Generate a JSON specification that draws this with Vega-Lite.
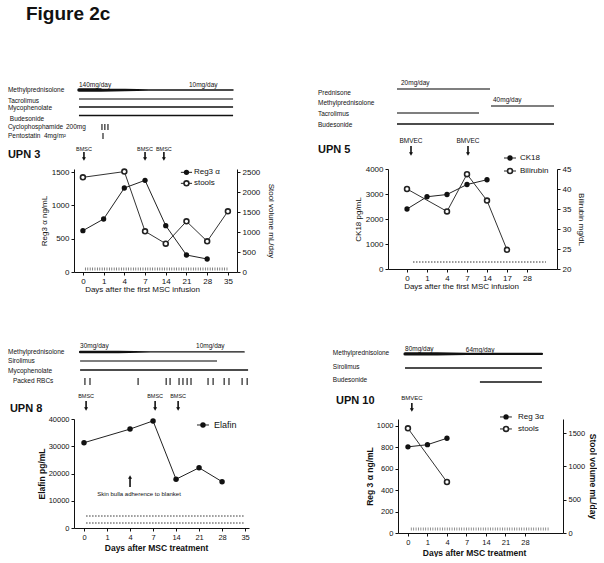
{
 "$schema": "https://vega.github.io/schema/vega-lite/v6.json",
 "background": "white",
 "padding": {"left": 7, "top": 4, "right": 0, "bottom": 0},
 "config": {
  "font": "Liberation Sans",
  "view": {"stroke": null},
  "axis": {"grid": false, "domainColor": "#111", "tickColor": "#111", "labelColor": "#111", "titleColor": "#111", "labelFontSize": 8, "titleFontSize": 8, "titleFontWeight": "normal", "tickSize": 3, "labelPadding": 2, "domainWidth": 1, "tickWidth": 1, "labelFlush": false, "labelOverlap": false},
  "text": {"color": "#111"}
 },
 "bounds": "full",
 "spacing": 49,
 "resolve": {"scale": {"size": "independent"}},
 "datasets": {
  "u3": [
   {"k":"reg","i":0,"v":620},{"k":"reg","i":1,"v":795},{"k":"reg","i":2,"v":1260},{"k":"reg","i":3,"v":1375},{"k":"reg","i":4,"v":695},{"k":"reg","i":5,"v":255},{"k":"reg","i":6,"v":195},
   {"k":"stool","i":0,"v":2367},{"k":"stool","i":2,"v":2510},{"k":"stool","i":3,"v":1017},{"k":"stool","i":4,"v":708},{"k":"stool","i":5,"v":1267},{"k":"stool","i":6,"v":767},{"k":"stool","i":7,"v":1517},
   {"k":"taper","i":-0.19,"v":2730,"dose":140},{"k":"taper","i":0.87,"v":2730,"dose":140},{"k":"taper","i":3.19,"v":2730,"dose":10},{"k":"taper","i":7.25,"v":2730,"dose":10},
   {"k":"drugg","t":"Tacrolimus","i":-0.19,"i2":7.25,"v":2595},
   {"k":"drug","t":"Mycophenolate","i":-0.19,"i2":7.25,"v":2475},
   {"k":"drug","t":"Budesonide","i":-0.19,"i2":7.25,"v":2348},
   {"k":"lab","t":"Methylprednisolone","i":-3.62,"v":2730},
   {"k":"lab","t":"Tacrolimus","i":-3.62,"v":2570},
   {"k":"lab","t":"Mycophenolate","i":-3.62,"v":2460},
   {"k":"lab","t":"Budesonide","i":-3.53,"v":2295},
   {"k":"lab","t":"Cyclophosphamide","i":-3.62,"v":2170},
   {"k":"lab","t":"200mg","i":-0.82,"v":2170},
   {"k":"lab","t":"Pentostatin","i":-3.62,"v":2045},
   {"k":"lab","t":"4mg/m²","i":-1.88,"v":2045},
   {"k":"lab","t":"140mg/day","i":-0.19,"v":2805},
   {"k":"lab","t":"10mg/day","i":5.12,"v":2805},
   {"k":"bar","i":0.92,"v":2220,"v2":2130},{"k":"bar","i":1.06,"v":2220,"v2":2130},{"k":"bar","i":1.21,"v":2220,"v2":2130},
   {"k":"bar","i":0.97,"v":2085,"v2":1995},
   {"k":"ann","t":"BMSC","i":0.05,"v":1838},{"k":"ann","t":"BMSC","i":3.0,"v":1838},{"k":"ann","t":"BMSC","i":3.91,"v":1838},
   {"k":"arr","i":0.05,"v":1800,"v2":1710},{"k":"arr","i":3.0,"v":1800,"v2":1710},{"k":"arr","i":3.91,"v":1800,"v2":1710},
   {"k":"head","i":0.05,"v":1695},{"k":"head","i":3.0,"v":1695},{"k":"head","i":3.91,"v":1695},
   {"k":"upn","t":"UPN 3","i":-3.62,"v":1755},
   {"k":"fig","t":"Figure 2c","i":-2.75,"v":3787},
   {"k":"dots","i":0.1,"i2":7.05,"v":45},
   {"k":"legl","i":4.73,"i2":5.27,"v":1495},{"k":"legf","i":5.0,"v":1495},{"k":"legt","t":"Reg3  α","i":5.36,"v":1495},
   {"k":"legl","i":4.73,"i2":5.27,"v":1330},{"k":"lego","i":5.0,"v":1330},{"k":"legt","t":"stools","i":5.36,"v":1330}
  ],
  "u5": [
   {"k":"reg","i":0,"v":2400},{"k":"reg","i":1,"v":2890},{"k":"reg","i":2,"v":2980},{"k":"reg","i":3,"v":3380},{"k":"reg","i":4,"v":3570},
   {"k":"stool","i":0,"v":40.0},{"k":"stool","i":2,"v":34.4},{"k":"stool","i":3,"v":43.7},{"k":"stool","i":4,"v":37.1},{"k":"stool","i":5,"v":24.8},
   {"k":"drugg","t":"Prednisone","i":-0.5,"i2":4.15,"v":7200},
   {"k":"drugg","t":"Methylprednisolone","i":4.2,"i2":7.35,"v":6520},
   {"k":"drugg","t":"Tacrolimus","i":-0.5,"i2":3.6,"v":6240},
   {"k":"drug","t":"Budesonide","i":-0.5,"i2":7.35,"v":5800},
   {"k":"lab","t":"Prednisone","i":-4.45,"v":7040},
   {"k":"lab","t":"Methylprednisolone","i":-4.45,"v":6640},
   {"k":"lab","t":"Tacrolimus","i":-4.45,"v":6200},
   {"k":"lab","t":"Budesonide","i":-4.45,"v":5760},
   {"k":"lab","t":"20mg/day","i":-0.3,"v":7440},
   {"k":"lab","t":"40mg/day","i":4.3,"v":6760},
   {"k":"upn","t":"UPN 5","i":-4.45,"v":4760},
   {"k":"ann","t":"BMVEC","i":0.2,"v":5120},{"k":"ann","t":"BMVEC","i":3.05,"v":5120},
   {"k":"arr","i":0.2,"v":4920,"v2":4640},{"k":"arr","i":3.05,"v":4920,"v2":4640},
   {"k":"head","i":0.2,"v":4600},{"k":"head","i":3.05,"v":4600},
   {"k":"dots","i":0.3,"i2":6.95,"v":280},
   {"k":"legl","i":4.85,"i2":5.45,"v":4440},{"k":"legf","i":5.15,"v":4440},{"k":"legt","t":"CK18","i":5.65,"v":4440},
   {"k":"legl","i":4.85,"i2":5.45,"v":3920},{"k":"lego","i":5.15,"v":3920},{"k":"legt","t":"Bilirubin","i":5.65,"v":3920}
  ],
  "u8": [
   {"k":"reg","i":0,"v":31300},{"k":"reg","i":2,"v":36300},{"k":"reg","i":3,"v":39300},{"k":"reg","i":4,"v":17900},{"k":"reg","i":5,"v":22100},{"k":"reg","i":6,"v":17000},
   {"k":"dots","i":0.09,"i2":6.96,"v":4400},{"k":"dots","i":0.09,"i2":6.96,"v":1830},
   {"k":"taper","i":-0.17,"v":64600,"dose":30},{"k":"taper","i":1.5,"v":64600,"dose":30},{"k":"taper","i":2.9,"v":64600,"dose":10},{"k":"taper","i":6.96,"v":64600,"dose":10},
   {"k":"drugg","t":"Sirolimus","i":-0.17,"i2":5.78,"v":61300},
   {"k":"drug","t":"Mycophenolate","i":-0.17,"i2":7.13,"v":58000},
   {"k":"lab","t":"Methylprednisolone","i":-3.3,"v":64600},
   {"k":"lab","t":"Sirolimus","i":-3.3,"v":61300},
   {"k":"lab","t":"Mycophenolate","i":-3.3,"v":57600},
   {"k":"lab","t":"Packed RBCs","i":-3.09,"v":53950},
   {"k":"lab","t":"30mg/day","i":-0.17,"v":66800},
   {"k":"lab","t":"10mg/day","i":4.87,"v":66800},
   {"k":"bar","i":0.04,"v":55050,"v2":52480},{"k":"bar","i":0.26,"v":55050,"v2":52480},{"k":"bar","i":2.35,"v":55050,"v2":52480},
   {"k":"bar","i":3.57,"v":55050,"v2":52480},{"k":"bar","i":3.74,"v":55050,"v2":52480},
   {"k":"bar","i":4.13,"v":55050,"v2":52480},{"k":"bar","i":4.3,"v":55050,"v2":52480},{"k":"bar","i":4.48,"v":55050,"v2":52480},{"k":"bar","i":4.65,"v":55050,"v2":52480},
   {"k":"bar","i":5.39,"v":55050,"v2":52480},{"k":"bar","i":5.61,"v":55050,"v2":52480},
   {"k":"bar","i":6.09,"v":55050,"v2":52480},{"k":"bar","i":6.3,"v":55050,"v2":52480},
   {"k":"bar","i":6.87,"v":55050,"v2":52480},{"k":"bar","i":7.09,"v":55050,"v2":52480},
   {"k":"ann","t":"BMSC","i":0.09,"v":48440},{"k":"ann","t":"BMSC","i":3.09,"v":48440},{"k":"ann","t":"BMSC","i":4.09,"v":48440},
   {"k":"arr","i":0.09,"v":46600,"v2":44040},{"k":"arr","i":3.09,"v":46600,"v2":44040},{"k":"arr","i":4.09,"v":46600,"v2":44040},
   {"k":"head","i":0.09,"v":43670},{"k":"head","i":3.09,"v":43670},{"k":"head","i":4.09,"v":43670},
   {"k":"upn","t":"UPN 8","i":-3.22,"v":43670},
   {"k":"arr","i":2.0,"v":15050,"v2":18350},
   {"k":"headu","i":2.0,"v":18720},
   {"k":"note","t":"Skin bulla adherence to blanket","i":2.39,"v":12480},
   {"k":"legl","i":4.91,"i2":5.43,"v":37800},{"k":"legf","i":5.17,"v":37800},{"k":"legt","t":"Elafin","i":5.65,"v":37800}
  ],
  "u10": [
   {"k":"reg","i":0,"v":805},{"k":"reg","i":1,"v":825},{"k":"reg","i":2,"v":885},
   {"k":"stool","i":0,"v":1570},{"k":"stool","i":2,"v":765},
   {"k":"dots","i":0.15,"i2":7.23,"v":37},
   {"k":"taper","i":-0.15,"v":1673,"dose":80},{"k":"taper","i":1.5,"v":1673,"dose":80},{"k":"taper","i":3.0,"v":1673,"dose":64},{"k":"taper","i":6.87,"v":1673,"dose":64},
   {"k":"drug","t":"Sirolimus","i":-0.15,"i2":6.87,"v":1542},
   {"k":"drug","t":"Budesonide","i":3.69,"i2":6.87,"v":1411},
   {"k":"lab","t":"Methylprednisolone","i":-3.85,"v":1682},
   {"k":"lab","t":"Sirolimus","i":-3.85,"v":1551},
   {"k":"lab","t":"Budesonide","i":-3.85,"v":1430},
   {"k":"lab","t":"80mg/day","i":-0.15,"v":1720},
   {"k":"lab","t":"64mg/day","i":2.97,"v":1710},
   {"k":"upn","t":"UPN 10","i":-3.69,"v":1234},
   {"k":"ann","t":"BMVEC","i":0.2,"v":1262},
   {"k":"arr","i":0.2,"v":1215,"v2":1159},
   {"k":"head","i":0.2,"v":1150},
   {"k":"legl","i":4.72,"i2":5.33,"v":1084},{"k":"legf","i":5.03,"v":1084},{"k":"legt","t":"Reg 3α","i":5.64,"v":1084},
   {"k":"legl","i":4.72,"i2":5.33,"v":972},{"k":"lego","i":5.03,"v":972},{"k":"legt","t":"stools","i":5.64,"v":972}
  ]
 },
 "vconcat": [
  {
   "hconcat": [
    {
     "width": 163, "height": 103,
     "data": {"name": "u3"},
     "layer": [
      {
       "encoding": {
        "x": {"field":"i","type":"quantitative","scale":{"domain":[-0.43,7.44],"nice":false,"zero":false},"axis":{"values":[0,1,2,3,4,5,6,7],"labelExpr":"['0','1','4','7','14','21','28','35'][datum.value]","title":"Days after the first MSC infusion","titleX":68,"titlePadding":0}},
        "y": {"field":"v","type":"quantitative","scale":{"domain":[0,1545],"nice":false,"zero":false},"axis":{"values":[0,500,1000,1500],"format":"d","title":"Reg3 α ng/mL","titlePadding":3}}
       },
       "layer": [
        {"transform":[{"filter":"datum.k=='taper'"}],"mark":{"type":"trail","color":"#111"},"encoding":{"size":{"field":"dose","type":"quantitative","scale":{"domain":[10,140],"range":[1.3,3.4]},"legend":null}}},
        {"transform":[{"filter":"datum.k=='drug'"}],"mark":{"type":"rule","color":"#111","strokeWidth":1.5},"encoding":{"x2":{"field":"i2"}}},
        {"transform":[{"filter":"datum.k=='drugg'"}],"mark":{"type":"rule","color":"#555","strokeWidth":1.5},"encoding":{"x2":{"field":"i2"}}},
        {"transform":[{"filter":"datum.k=='bar'"}],"mark":{"type":"rule","color":"#111","strokeWidth":1.1},"encoding":{"y2":{"field":"v2"}}},
        {"transform":[{"filter":"datum.k=='arr'"}],"mark":{"type":"rule","color":"#111","strokeWidth":1.6},"encoding":{"y2":{"field":"v2"}}},
        {"transform":[{"filter":"datum.k=='head'"}],"mark":{"type":"point","shape":"triangle-down","filled":true,"color":"#111","size":16,"opacity":1}},
        {"transform":[{"filter":"datum.k=='lab'"}],"mark":{"type":"text","align":"left","baseline":"middle","fontSize":6.5},"encoding":{"text":{"field":"t"}}},
        {"transform":[{"filter":"datum.k=='ann'"}],"mark":{"type":"text","align":"center","baseline":"middle","fontSize":5.5},"encoding":{"text":{"field":"t"}}},
        {"transform":[{"filter":"datum.k=='upn'"}],"mark":{"type":"text","align":"left","baseline":"middle","fontSize":11,"fontWeight":"bold"},"encoding":{"text":{"field":"t"}}},
        {"transform":[{"filter":"datum.k=='fig'"}],"mark":{"type":"text","align":"left","baseline":"alphabetic","fontSize":19,"fontWeight":"bold"},"encoding":{"text":{"field":"t"}}},
        {"transform":[{"filter":"datum.k=='dots'"}],"mark":{"type":"rule","color":"#666","strokeWidth":3,"strokeDash":[0.8,1.6]},"encoding":{"x2":{"field":"i2"}}},
        {"transform":[{"filter":"datum.k=='reg'"}],"mark":{"type":"line","color":"#222","strokeWidth":1}},
        {"transform":[{"filter":"datum.k=='reg'"}],"mark":{"type":"point","filled":true,"color":"#111","size":28,"opacity":1}},
        {"transform":[{"filter":"datum.k=='legl'"}],"mark":{"type":"rule","color":"#222","strokeWidth":1},"encoding":{"x2":{"field":"i2"}}},
        {"transform":[{"filter":"datum.k=='legf'"}],"mark":{"type":"point","filled":true,"color":"#111","size":28,"opacity":1}},
        {"transform":[{"filter":"datum.k=='lego'"}],"mark":{"type":"point","filled":true,"fill":"white","stroke":"#222","strokeWidth":1.6,"size":24,"opacity":1}},
        {"transform":[{"filter":"datum.k=='legt'"}],"mark":{"type":"text","align":"left","baseline":"middle","fontSize":8},"encoding":{"text":{"field":"t"}}}
       ]
      },
      {
       "transform":[{"filter":"datum.k=='stool'"}],
       "encoding": {
        "x": {"field":"i","type":"quantitative","scale":{"domain":[-0.43,7.44],"nice":false,"zero":false},"axis":{"values":[0,1,2,3,4,5,6,7],"labelExpr":"['0','1','4','7','14','21','28','35'][datum.value]","title":"Days after the first MSC infusion","titleX":68,"titlePadding":0}},
        "y": {"field":"v","type":"quantitative","scale":{"domain":[0,2575],"nice":false,"zero":false},"axis":{"orient":"right","values":[0,500,1000,1500,2000,2500],"format":"d","title":"Stool volume mL/day","titlePadding":7}}
       },
       "layer": [
        {"mark":{"type":"line","color":"#333","strokeWidth":1}},
        {"mark":{"type":"point","filled":true,"fill":"white","stroke":"#222","strokeWidth":1.6,"size":24,"opacity":1}}
       ]
      }
     ],
     "resolve": {"scale": {"y": "independent"}, "axis": {"y": "independent"}}
    },
    {
     "width": 169, "height": 100,
     "data": {"name": "u5"},
     "layer": [
      {
       "encoding": {
        "x": {"field":"i","type":"quantitative","scale":{"domain":[-0.95,7.5],"nice":false,"zero":false},"axis":{"values":[0,1,2,3,4,5,6],"labelExpr":"['0','1','4','7','14','17','28'][datum.value]","title":"Days after the first MSC infusion","titleX":73,"titlePadding":0}},
        "y": {"field":"v","type":"quantitative","scale":{"domain":[0,4000],"nice":false,"zero":false},"axis":{"values":[0,1000,2000,3000,4000],"format":"d","title":"CK18 pg/mL","titlePadding":3}}
       },
       "layer": [
        {"transform":[{"filter":"datum.k=='drug'"}],"mark":{"type":"rule","color":"#111","strokeWidth":1.5},"encoding":{"x2":{"field":"i2"}}},
        {"transform":[{"filter":"datum.k=='drugg'"}],"mark":{"type":"rule","color":"#555","strokeWidth":1.5},"encoding":{"x2":{"field":"i2"}}},
        {"transform":[{"filter":"datum.k=='arr'"}],"mark":{"type":"rule","color":"#111","strokeWidth":1.6},"encoding":{"y2":{"field":"v2"}}},
        {"transform":[{"filter":"datum.k=='head'"}],"mark":{"type":"point","shape":"triangle-down","filled":true,"color":"#111","size":16,"opacity":1}},
        {"transform":[{"filter":"datum.k=='lab'"}],"mark":{"type":"text","align":"left","baseline":"middle","fontSize":6.5},"encoding":{"text":{"field":"t"}}},
        {"transform":[{"filter":"datum.k=='ann'"}],"mark":{"type":"text","align":"center","baseline":"middle","fontSize":6.5},"encoding":{"text":{"field":"t"}}},
        {"transform":[{"filter":"datum.k=='upn'"}],"mark":{"type":"text","align":"left","baseline":"middle","fontSize":11,"fontWeight":"bold"},"encoding":{"text":{"field":"t"}}},
        {"transform":[{"filter":"datum.k=='dots'"}],"mark":{"type":"rule","color":"#333","strokeWidth":1,"strokeDash":[1.5,1.5]},"encoding":{"x2":{"field":"i2"}}},
        {"transform":[{"filter":"datum.k=='reg'"}],"mark":{"type":"line","color":"#222","strokeWidth":1}},
        {"transform":[{"filter":"datum.k=='reg'"}],"mark":{"type":"point","filled":true,"color":"#111","size":28,"opacity":1}},
        {"transform":[{"filter":"datum.k=='legl'"}],"mark":{"type":"rule","color":"#222","strokeWidth":1},"encoding":{"x2":{"field":"i2"}}},
        {"transform":[{"filter":"datum.k=='legf'"}],"mark":{"type":"point","filled":true,"color":"#111","size":28,"opacity":1}},
        {"transform":[{"filter":"datum.k=='lego'"}],"mark":{"type":"point","filled":true,"fill":"white","stroke":"#222","strokeWidth":1.6,"size":24,"opacity":1}},
        {"transform":[{"filter":"datum.k=='legt'"}],"mark":{"type":"text","align":"left","baseline":"middle","fontSize":8},"encoding":{"text":{"field":"t"}}}
       ]
      },
      {
       "transform":[{"filter":"datum.k=='stool'"}],
       "encoding": {
        "x": {"field":"i","type":"quantitative","scale":{"domain":[-0.95,7.5],"nice":false,"zero":false},"axis":{"values":[0,1,2,3,4,5,6],"labelExpr":"['0','1','4','7','14','17','28'][datum.value]","title":"Days after the first MSC infusion","titleX":73,"titlePadding":0}},
        "y": {"field":"v","type":"quantitative","scale":{"domain":[20,45],"nice":false,"zero":false},"axis":{"orient":"right","values":[20,25,30,35,40,45],"format":"d","title":"Bilirubin mg/dL","titlePadding":6}}
       },
       "layer": [
        {"mark":{"type":"line","color":"#333","strokeWidth":1}},
        {"mark":{"type":"point","filled":true,"fill":"white","stroke":"#222","strokeWidth":1.6,"size":24,"opacity":1}}
       ]
      }
     ],
     "resolve": {"scale": {"y": "independent"}, "axis": {"y": "independent"}}
    }
   ],
   "spacing": 151,
   "bounds": "flush",
   "resolve": {"scale": {"size": "independent"}}
  },
  {
   "hconcat": [
    {
     "width": 175, "height": 109,
     "data": {"name": "u8"},
     "encoding": {
      "x": {"field":"i","type":"quantitative","scale":{"domain":[-0.435,7.17],"nice":false,"zero":false},"axis":{"values":[0,1,2,3,4,5,6,7],"labelExpr":"['0','1','4','7','14','21','28','35'][datum.value]","title":"Days after MSC treatment","titleFontWeight":"bold","titleFontSize":8.5,"titleX":82,"titlePadding":3,"labelFontSize":7.5}},
      "y": {"field":"v","type":"quantitative","scale":{"domain":[0,40000],"nice":false,"zero":false},"axis":{"values":[0,10000,20000,30000,40000],"format":"d","title":"Elafin pg/mL","titleFontWeight":"bold","titleFontSize":8.5,"titlePadding":2,"labelFontSize":7.5}}
     },
     "layer": [
      {"transform":[{"filter":"datum.k=='taper'"}],"mark":{"type":"trail","color":"#111"},"encoding":{"size":{"field":"dose","type":"quantitative","scale":{"domain":[10,30],"range":[1.3,2.4]},"legend":null}}},
      {"transform":[{"filter":"datum.k=='drug'"}],"mark":{"type":"rule","color":"#111","strokeWidth":1.5},"encoding":{"x2":{"field":"i2"}}},
      {"transform":[{"filter":"datum.k=='drugg'"}],"mark":{"type":"rule","color":"#555","strokeWidth":1.5},"encoding":{"x2":{"field":"i2"}}},
      {"transform":[{"filter":"datum.k=='bar'"}],"mark":{"type":"rule","color":"#111","strokeWidth":1.1},"encoding":{"y2":{"field":"v2"}}},
      {"transform":[{"filter":"datum.k=='arr'"}],"mark":{"type":"rule","color":"#111","strokeWidth":1.6},"encoding":{"y2":{"field":"v2"}}},
      {"transform":[{"filter":"datum.k=='head'"}],"mark":{"type":"point","shape":"triangle-down","filled":true,"color":"#111","size":16,"opacity":1}},
      {"transform":[{"filter":"datum.k=='headu'"}],"mark":{"type":"point","shape":"triangle-up","filled":true,"color":"#111","size":16,"opacity":1}},
      {"transform":[{"filter":"datum.k=='lab'"}],"mark":{"type":"text","align":"left","baseline":"middle","fontSize":6.5},"encoding":{"text":{"field":"t"}}},
      {"transform":[{"filter":"datum.k=='ann'"}],"mark":{"type":"text","align":"center","baseline":"middle","fontSize":5.5},"encoding":{"text":{"field":"t"}}},
      {"transform":[{"filter":"datum.k=='note'"}],"mark":{"type":"text","align":"center","baseline":"middle","fontSize":6},"encoding":{"text":{"field":"t"}}},
      {"transform":[{"filter":"datum.k=='upn'"}],"mark":{"type":"text","align":"left","baseline":"middle","fontSize":11,"fontWeight":"bold"},"encoding":{"text":{"field":"t"}}},
      {"transform":[{"filter":"datum.k=='dots'"}],"mark":{"type":"rule","color":"#333","strokeWidth":1,"strokeDash":[1.5,1.5]},"encoding":{"x2":{"field":"i2"}}},
      {"transform":[{"filter":"datum.k=='reg'"}],"mark":{"type":"line","color":"#222","strokeWidth":1}},
      {"transform":[{"filter":"datum.k=='reg'"}],"mark":{"type":"point","filled":true,"color":"#111","size":30,"opacity":1}},
      {"transform":[{"filter":"datum.k=='legl'"}],"mark":{"type":"rule","color":"#222","strokeWidth":1},"encoding":{"x2":{"field":"i2"}}},
      {"transform":[{"filter":"datum.k=='legf'"}],"mark":{"type":"point","filled":true,"color":"#111","size":30,"opacity":1}},
      {"transform":[{"filter":"datum.k=='legt'"}],"mark":{"type":"text","align":"left","baseline":"middle","fontSize":9},"encoding":{"text":{"field":"t"}}}
     ]
    },
    {
     "width": 165, "height": 114,
     "data": {"name": "u10"},
     "layer": [
      {
       "encoding": {
        "x": {"field":"i","type":"quantitative","scale":{"domain":[-0.51,7.95],"nice":false,"zero":false},"axis":{"values":[0,1,2,3,4,5,6],"labelExpr":"['0','1','4','7','14','21','28'][datum.value]","title":"Days after MSC treatment","titleFontWeight":"bold","titleFontSize":8.5,"titleX":76,"titlePadding":3,"labelFontSize":7.5}},
        "y": {"field":"v","type":"quantitative","scale":{"domain":[0,1065],"nice":false,"zero":false},"axis":{"values":[0,200,400,600,800,1000],"format":"d","title":"Reg 3 α ng/mL","titleFontWeight":"bold","titleFontSize":8.5,"titlePadding":2,"labelFontSize":7.5}}
       },
       "layer": [
        {"transform":[{"filter":"datum.k=='taper'"}],"mark":{"type":"trail","color":"#111"},"encoding":{"size":{"field":"dose","type":"quantitative","scale":{"domain":[64,80],"range":[2.3,3.2]},"legend":null}}},
        {"transform":[{"filter":"datum.k=='drug'"}],"mark":{"type":"rule","color":"#111","strokeWidth":1.5},"encoding":{"x2":{"field":"i2"}}},
        {"transform":[{"filter":"datum.k=='arr'"}],"mark":{"type":"rule","color":"#111","strokeWidth":1.6},"encoding":{"y2":{"field":"v2"}}},
        {"transform":[{"filter":"datum.k=='head'"}],"mark":{"type":"point","shape":"triangle-down","filled":true,"color":"#111","size":16,"opacity":1}},
        {"transform":[{"filter":"datum.k=='lab'"}],"mark":{"type":"text","align":"left","baseline":"middle","fontSize":6.5},"encoding":{"text":{"field":"t"}}},
        {"transform":[{"filter":"datum.k=='ann'"}],"mark":{"type":"text","align":"center","baseline":"middle","fontSize":6},"encoding":{"text":{"field":"t"}}},
        {"transform":[{"filter":"datum.k=='upn'"}],"mark":{"type":"text","align":"left","baseline":"middle","fontSize":11,"fontWeight":"bold"},"encoding":{"text":{"field":"t"}}},
        {"transform":[{"filter":"datum.k=='dots'"}],"mark":{"type":"rule","color":"#777","strokeWidth":3,"strokeDash":[0.8,1.6]},"encoding":{"x2":{"field":"i2"}}},
        {"transform":[{"filter":"datum.k=='reg'"}],"mark":{"type":"line","color":"#222","strokeWidth":1}},
        {"transform":[{"filter":"datum.k=='reg'"}],"mark":{"type":"point","filled":true,"color":"#111","size":28,"opacity":1}},
        {"transform":[{"filter":"datum.k=='legl'"}],"mark":{"type":"rule","color":"#222","strokeWidth":1},"encoding":{"x2":{"field":"i2"}}},
        {"transform":[{"filter":"datum.k=='legf'"}],"mark":{"type":"point","filled":true,"color":"#111","size":28,"opacity":1}},
        {"transform":[{"filter":"datum.k=='lego'"}],"mark":{"type":"point","filled":true,"fill":"white","stroke":"#222","strokeWidth":1.6,"size":24,"opacity":1}},
        {"transform":[{"filter":"datum.k=='legt'"}],"mark":{"type":"text","align":"left","baseline":"middle","fontSize":8},"encoding":{"text":{"field":"t"}}}
       ]
      },
      {
       "transform":[{"filter":"datum.k=='stool'"}],
       "encoding": {
        "x": {"field":"i","type":"quantitative","scale":{"domain":[-0.51,7.95],"nice":false,"zero":false},"axis":{"values":[0,1,2,3,4,5,6],"labelExpr":"['0','1','4','7','14','21','28'][datum.value]","title":"Days after MSC treatment","titleFontWeight":"bold","titleFontSize":8.5,"titleX":76,"titlePadding":3,"labelFontSize":7.5}},
        "y": {"field":"v","type":"quantitative","scale":{"domain":[0,1710],"nice":false,"zero":false},"axis":{"orient":"right","values":[0,500,1000,1500],"format":"d","title":"Stool volume mL/day","titleFontWeight":"bold","titleFontSize":8.5,"titlePadding":3,"labelFontSize":7.5}}
       },
       "layer": [
        {"mark":{"type":"line","color":"#333","strokeWidth":1}},
        {"mark":{"type":"point","filled":true,"fill":"white","stroke":"#222","strokeWidth":1.6,"size":24,"opacity":1}}
       ]
      }
     ],
     "resolve": {"scale": {"y": "independent"}, "axis": {"y": "independent"}}
    }
   ],
   "spacing": 149,
   "bounds": "flush",
   "resolve": {"scale": {"size": "independent"}}
  }
 ]
}
